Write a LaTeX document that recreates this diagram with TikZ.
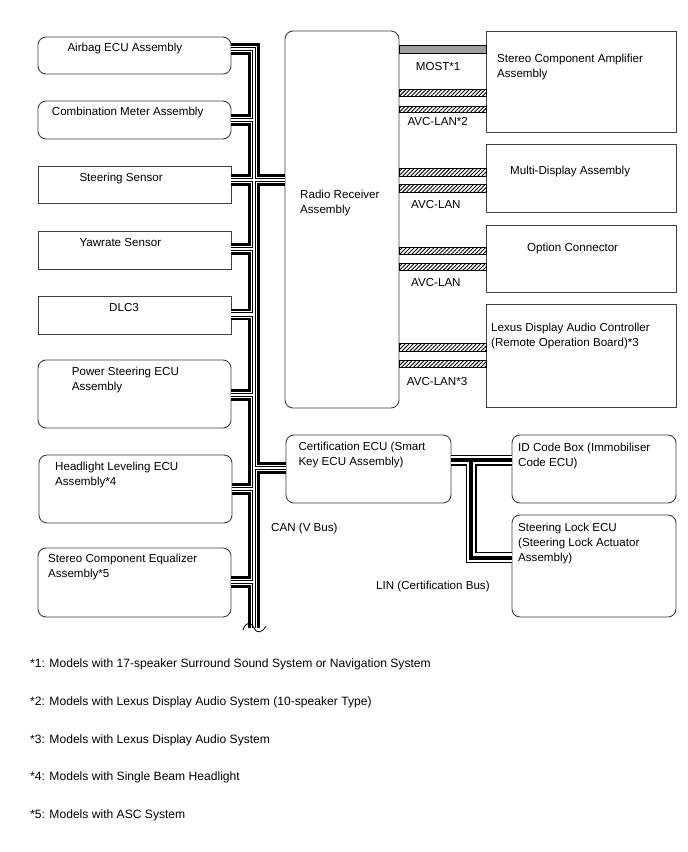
\documentclass[tikz,border=0pt]{standalone}
\usepackage{fontspec}
\setmainfont{Liberation Sans}
\usetikzlibrary{fit,patterns.meta}
\newcommand\fsz{\fontsize{11.6}{15}\selectfont}
\newcommand\fnsz{\fontsize{12.1}{15}\selectfont}
\begin{document}
\begin{tikzpicture}[x=1pt,y=-1pt,
  bx/.style={draw=black!75, line width=0.9pt, inner sep=0pt, outer sep=0pt},
  rbx/.style={bx, rounded corners=8pt},
  lbl/.style={font=\fsz, inner sep=0pt, anchor=north west, align=left},
  fnote/.style={lbl, font=\fnsz},
  hatchbar/.style={draw=black, line width=0.8pt, pattern={Lines[angle=45,distance=2.8pt,line width=0.9pt]}},
  mostbar/.style={draw=black, line width=0.8pt, fill=black!38},
  squiggle/.style={draw=black, line width=0.8pt},
]
\useasboundingbox[fill=white] (0,0) rectangle (688,852);

% ---------- boxes ----------
\node[rbx, fit={(38,37) (231,74)}] (airbag) {};
\node[rbx, fit={(38,101) (231,139)}] (comb) {};
\node[bx, fit={(38,166) (231,203)}] (ss) {};
\node[bx, fit={(38,231) (231,269)}] (yaw) {};
\node[bx, fit={(38,296) (231,334)}] (dlc) {};
\node[rbx, fit={(38,360) (231,428)}] (ps) {};
\node[rbx, fit={(39,455) (232,523)}] (hl) {};
\node[rbx, fit={(38,548) (231,617)}] (eq) {};
\node[rbx, fit={(285,31) (399,408)}] (radio) {};
\node[bx, fit={(486,31) (676,132)}] (amp) {};
\node[bx, fit={(486,144) (676,212)}] (mdisp) {};
\node[bx, fit={(486,225) (676,292)}] (opt) {};
\node[bx, fit={(486,304) (676,407)}] (lexus) {};
\node[rbx, fit={(286,435) (451,503)}] (cert) {};
\node[rbx, fit={(512,435) (676,503)}] (idbox) {};
\node[rbx, fit={(512,515) (676,617)}] (slock) {};

% ---------- box texts ----------
\node[lbl] (t1) at (67.3,42.7) {Airbag ECU Assembly};
\node[lbl] (t2) at (51.7,107.3) {Combination Meter Assembly};
\node[lbl] (t3) at (79.3,173.3) {Steering Sensor};
\node[lbl] (t4) at (79.3,238.3) {Yawrate Sensor};
\node[lbl] (t5) at (109,303.3) {DLC3};
\node[lbl] (t6) at (71.7,367.3) {Power Steering ECU\\Assembly};
\node[lbl] (t7) at (55,461.5) {Headlight Leveling ECU\\Assembly*4};
\node[lbl] (t8) at (48,553.5) {Stereo Component Equalizer\\Assembly*5};
\node[lbl] (t9) at (300,190) {Radio Receiver\\Assembly};
\node[lbl] (t10) at (497,53.5) {Stereo Component Amplifier\\Assembly};
\node[lbl] (t11) at (510,165.5) {Multi-Display Assembly};
\node[lbl] (t12) at (527,242.5) {Option Connector};
\node[lbl] (t13) at (491,322.5) {Lexus Display Audio Controller\\(Remote Operation Board)*3};
\node[lbl] (t14) at (298.3,441.7) {Certification ECU (Smart\\Key ECU Assembly)};
\node[lbl] (t15) at (518,443) {ID Code Box (Immobiliser\\Code ECU)};
\node[lbl] (t16) at (518,523) {Steering Lock ECU\\(Steering Lock Actuator\\Assembly)};

% ---------- bus labels ----------
\node[lbl] (l1) at (415.7,61.7) {MOST*1};
\node[lbl] (l2) at (407.3,117.3) {AVC-LAN*2};
\node[lbl] (l3) at (411,200) {AVC-LAN};
\node[lbl] (l4) at (411,278.5) {AVC-LAN};
\node[lbl] (l5) at (406.7,376.7) {AVC-LAN*3};
\node[lbl] (l6) at (271,523) {CAN (V Bus)};
\node[lbl] (l7) at (376,581) {LIN (Certification Bus)};

% ---------- footnotes ----------
\node[fnote] (f1) at (30,658.5) {*1: Models with 17-speaker Surround Sound System or Navigation System};
\node[fnote] (f2) at (30,696.5) {*2: Models with Lexus Display Audio System (10-speaker Type)};
\node[fnote] (f3) at (30,734.5) {*3: Models with Lexus Display Audio System};
\node[fnote] (f4) at (30,771.5) {*4: Models with Single Beam Headlight};
\node[fnote] (f5) at (30,809.5) {*5: Models with ASC System};

% ---------- MOST / AVC-LAN ----------
\draw[mostbar] (radio.east |- 0,45.5) rectangle (amp.west |- 0,53.5);
\draw[hatchbar] (radio.east |- 0,89.5) rectangle (amp.west |- 0,96);
\draw[hatchbar] (radio.east |- 0,106) rectangle (amp.west |- 0,112.5);
\draw[hatchbar] (radio.east |- 0,168.5) rectangle (mdisp.west |- 0,176);
\draw[hatchbar] (radio.east |- 0,184.5) rectangle (mdisp.west |- 0,192);
\draw[hatchbar] (radio.east |- 0,247) rectangle (opt.west |- 0,254);
\draw[hatchbar] (radio.east |- 0,263.5) rectangle (opt.west |- 0,270.5);
\draw[hatchbar] (radio.east |- 0,343.5) rectangle (lexus.west |- 0,351);
\draw[hatchbar] (radio.east |- 0,360) rectangle (lexus.west |- 0,367.5);

% ---------- CAN bus ----------
\coordinate (jA) at (254,49);
\coordinate (jB) at (254,120);
\coordinate (jC) at (254,180);
\coordinate (jD) at (254,249);
\coordinate (jE) at (254,314.5);
\coordinate (jF) at (254,395);
\coordinate (jG) at (254,489);
\coordinate (jH) at (254,582);
\coordinate (jI) at (254,468);
\coordinate (jEnd) at (254,628);
\newcommand\canpath[1]{%
  \draw[line cap=butt, line join=miter, #1]
    (airbag.east |- jA) -- (jA) -- (jEnd)
    (comb.east |- jB) -- (jB)
    (ss.east |- jC) -- (radio.west |- jC)
    (yaw.east |- jD) -- (jD)
    (dlc.east |- jE) -- (jE)
    (ps.east |- jF) -- (jF)
    (hl.east |- jG) -- (jG)
    (eq.east |- jH) -- (jH)
    (jI) -- (cert.west |- jI);}
\canpath{black, line width=11.5pt}
\canpath{white, line width=6.5pt}
\canpath{black, line width=4.5pt}
\canpath{white, line width=2.5pt}
\coordinate (w0) at (243,630);
\coordinate (w1) at (254,628);
\coordinate (w2) at (266,626);
\draw[squiggle] (w0) .. controls (246,621) and (251,622) .. (w1) .. controls (257,634) and (262,633) .. (w2);

% ---------- LIN bus ----------
\coordinate (k1) at (471,460);
\coordinate (k2) at (471,557.5);
\newcommand\linpath[1]{%
  \draw[line cap=butt, line join=miter, #1]
    (cert.east |- k1) -- (idbox.west |- k1)
    (k1) -- (k2) -- (slock.west |- k2);}
\linpath{black, line width=11pt}
\linpath{white, line width=8.6pt}
\linpath{black, line width=4pt}
\end{tikzpicture}
\end{document}
